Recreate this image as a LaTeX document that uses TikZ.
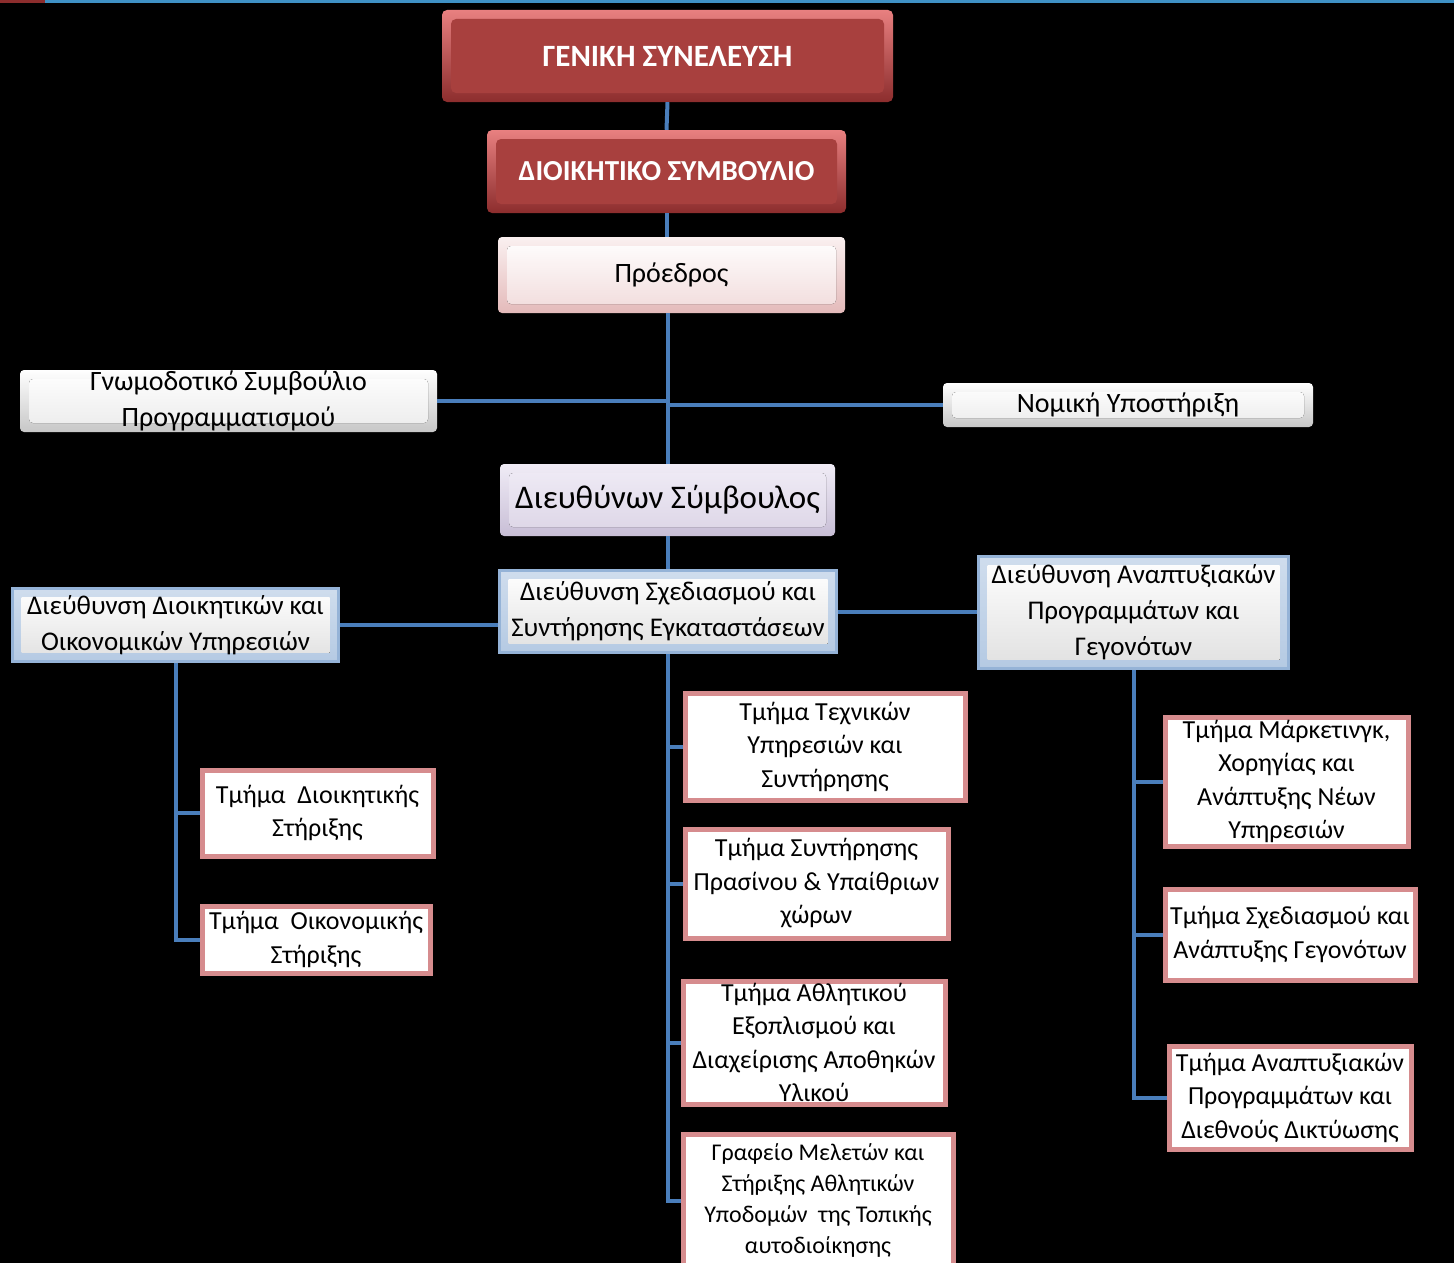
\documentclass[tikz,border=0pt]{standalone}
\usepackage{fontspec}
\setmainfont{Carlito}

\definecolor{linkblue}{RGB}{74,126,187}
\definecolor{redtop}{RGB}{232,128,128}
\definecolor{redbot}{RGB}{140,45,45}
\definecolor{redface}{RGB}{168,64,62}
\definecolor{pinktop}{RGB}{250,240,240}
\definecolor{pinkbot}{RGB}{228,186,186}
\definecolor{lilactop}{RGB}{240,236,246}
\definecolor{lilacbot}{RGB}{200,190,214}
\definecolor{boxblue}{RGB}{149,179,215}
\definecolor{boxpink}{RGB}{214,140,142}

\tikzset{
  bevel/.style={path picture={
      \fill[#1] ([shift={(9pt,-9pt)}]path picture bounding box.north west)
        rectangle ([shift={(-9pt,9pt)}]path picture bounding box.south east);
    }},
  headbox/.style={rounded corners=5pt, inner sep=0pt, align=center,
    top color=redtop, bottom color=redbot, bevel={fill=redface},
    text=white, font=\bfseries\fontsize{31}{36}\selectfont},
  greybox/.style={rounded corners=4pt, inner sep=0pt, align=center,
    top color=white, bottom color=black!22,
    bevel={top color=white, bottom color=black!8},
    font=\fontsize{28}{36}\selectfont},
  bluebox/.style={inner sep=0pt, align=center, draw=boxblue, line width=3pt,
    top color=boxblue!45, bottom color=boxblue!70,
    bevel={top color=white, bottom color=black!12},
    font=\fontsize{27}{36}\selectfont},
  unitbox/.style={inner sep=0pt, align=center, draw=boxpink, line width=5pt,
    fill=white, font=\fontsize{26}{33.5}\selectfont},
  link/.style={draw=linkblue, line width=4pt}
}

\begin{document}
\begin{tikzpicture}[x=1pt,y=-1pt]

    % Canvas and top strip
    \useasboundingbox (0,0) rectangle (1454,1263);
    \fill[black] (0,0) rectangle (1454,1263);
    \fill[linkblue!85!cyan] (45,0) rectangle (1454,3);
    \fill[redbot] (0,0) rectangle (45,3);

    % Top of the hierarchy
    \node[headbox, minimum width=451, minimum height=92] (gen) at (667.5,56) {ΓΕΝΙΚΗ ΣΥΝΕΛΕΥΣΗ};
    \node[headbox, minimum width=359, minimum height=83, font=\bfseries\fontsize{29}{34}\selectfont] (board) at (666.5,171.5) {ΔΙΟΙΚΗΤΙΚΟ ΣΥΜΒΟΥΛΙΟ};
    \node[greybox, minimum width=347, minimum height=76, top color=pinktop, bottom color=pinkbot,
          bevel={top color=white, bottom color=pinktop!60!pinkbot}] (pres) at (671.5,275) {Πρόεδρος};

    % Advisory and legal support
    \node[greybox, minimum width=417, minimum height=62] (advis) at (228.5,401) {Γνωμοδοτικό Συμβούλιο\\Προγραμματισμού};
    \node[greybox, minimum width=370, minimum height=44] (legal) at (1128,405) {Νομική Υποστήριξη};

    % CEO
    \node[greybox, minimum width=335, minimum height=72, top color=lilactop, bottom color=lilacbot,
          bevel={top color=lilactop, bottom color=lilactop!50!lilacbot},
          font=\fontsize{33}{38}\selectfont] (ceo) at (667.5,500) {Διευθύνων Σύμβουλος};

    % Directorates
    \node[bluebox, minimum width=326, minimum height=73] (adm) at (175.5,625) {Διεύθυνση Διοικητικών και\\Οικονομικών Υπηρεσιών};
    \node[bluebox, minimum width=337, minimum height=82] (plan) at (668,611.5) {Διεύθυνση Σχεδιασμού και\\Συντήρησης Εγκαταστάσεων};
    \node[bluebox, minimum width=310, minimum height=112] (dev) at (1133.5,612.5) {Διεύθυνση Αναπτυξιακών\\Προγραμμάτων και\\Γεγονότων};

    % Departments, left
    \node[unitbox, minimum width=231, minimum height=86] (sup1) at (317.5,813) {Τμήμα\ \ Διοικητικής\\Στήριξης};
    \node[unitbox, minimum width=228, minimum height=67] (sup2) at (316,939.5) {Τμήμα\ \ Οικονομικής\\Στήριξης};

    % Departments, centre
    \node[unitbox, minimum width=280, minimum height=107] (tech1) at (825,746.5) {Τμήμα Τεχνικών\\Υπηρεσιών και\\Συντήρησης};
    \node[unitbox, minimum width=263, minimum height=109] (tech2) at (816.5,883.5) {Τμήμα Συντήρησης\\Πρασίνου \& Υπαίθριων\\χώρων};
    \node[unitbox, minimum width=262, minimum height=123] (tech3) at (814,1042.5) {Τμήμα Αθλητικού\\Εξοπλισμού και\\Διαχείρισης Αποθηκών\\Υλικού};
    \node[unitbox, minimum width=270, minimum height=133, font=\fontsize{24}{31}\selectfont] (tech4) at (818,1200.5) {Γραφείο Μελετών και\\Στήριξης Αθλητικών\\Υποδομών\ \ της Τοπικής\\αυτοδιοίκησης};

    % Departments, right
    \node[unitbox, minimum width=243, minimum height=129] (mkt1) at (1286.5,781.5) {Τμήμα Μάρκετινγκ,\\Χορηγίας και\\Ανάπτυξης Νέων\\Υπηρεσιών};
    \node[unitbox, minimum width=250, minimum height=91] (mkt2) at (1290,934.5) {Τμήμα Σχεδιασμού και\\Ανάπτυξης Γεγονότων};
    \node[unitbox, minimum width=242, minimum height=103] (mkt3) at (1290,1097.5) {Τμήμα Αναπτυξιακών\\Προγραμμάτων και\\Διεθνούς Δικτύωσης};

    % Connectors
    \draw[link] (gen.south) -- (board.north);
    \draw[link] (board.south) -- (board.south |- pres.north);
    \draw[link] (pres.south -| ceo.north) -- (ceo.north);
    \draw[link] (advis.east) -- (advis.east -| ceo.north);
    \draw[link] (legal.west -| ceo.north) -- (legal.west);
    \draw[link] (ceo.south) -- (ceo.south |- plan.north);
    \draw[link] (adm.east) -- (adm.east -| plan.west);
    \draw[link] (plan.east) -- (plan.east -| dev.west);
    \foreach \unit in {sup1,sup2} \draw[link] (adm.south) |- (\unit.west);
    \foreach \unit in {tech1,tech2,tech3,tech4} \draw[link] (plan.south) |- (\unit.west);
    \foreach \unit in {mkt1,mkt2,mkt3} \draw[link] (dev.south) |- (\unit.west);

\end{tikzpicture}
\end{document}
